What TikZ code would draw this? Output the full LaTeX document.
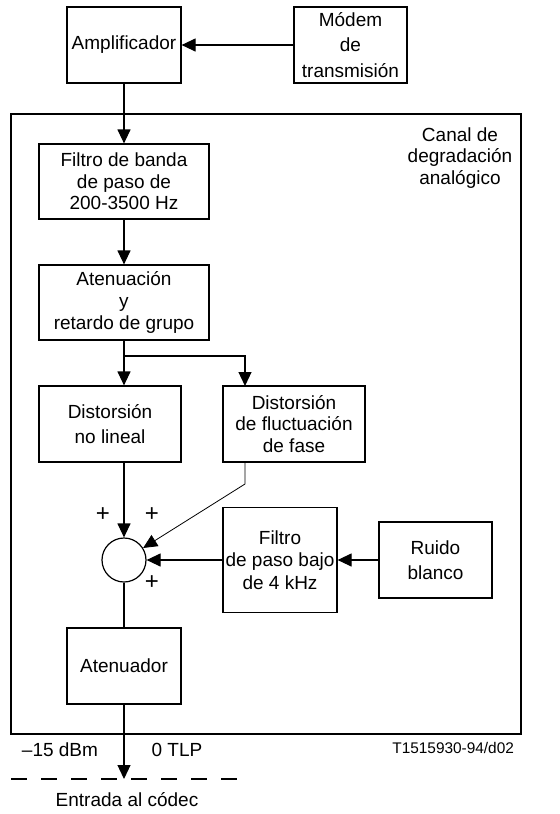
\documentclass[tikz,border=0pt]{standalone}
\usepackage{fontspec}
\setmainfont{Liberation Sans}
\usetikzlibrary{arrows.meta}

\begin{document}
\begin{tikzpicture}[x=0.5pt,y=-0.5pt]
        \tikzstyle{every node}=[font=\fontsize{9.5}{10.8}\selectfont,align=center]
        \tikzstyle{bloc}=[draw,line width=0.6pt,inner sep=0pt]
        \tikzstyle{airy}=[font=\fontsize{9.5}{12.6}\selectfont]
        \tikzstyle{signe}=[font=\fontsize{12}{12}\selectfont,inner sep=0pt]
        \tikzstyle{fil}=[line width=0.6pt]
        \tikzstyle{signal}=[fil,-{Triangle[length=7pt,width=6.5pt]}]
        \tikzstyle{fin}=[line width=0.4pt,-{Triangle[length=7pt,width=6.5pt]}]
        \useasboundingbox (0,0) rectangle (559,814);
        % canal
        \draw[fil] (11,114) rectangle (521,734);
        \node (canal) at (460,158) {Canal de\\degradación\\analógico};
        % blocs
        \node[bloc,minimum width=57pt,minimum height=38pt] (amp) at (124,45) {Amplificador};
        \node[bloc,airy,minimum width=56.5pt,minimum height=38pt] (modem) at (350.5,45) {Módem\\de\\transmisión};
        \node[bloc,minimum width=85pt,minimum height=37.5pt] (bpf) at (124,181.5) {Filtro de banda\\de paso de\\200-3500 Hz};
        \node[bloc,minimum width=85pt,minimum height=37.5pt] (aten) at (124,302.5) {Atenuación\\y\\retardo de grupo};
        \node[bloc,airy,minimum width=71pt,minimum height=38pt] (nolin) at (110,424) {Distorsión\\no lineal};
        \node[bloc,minimum width=71pt,minimum height=38pt] (fase) at (294,424) {Distorsión\\de fluctuación\\de fase};
        \node[draw,fil,circle,minimum size=22pt,inner sep=0pt] (sum) at (124,560) {};
        \node[bloc,font=\fontsize{9.5}{11.3}\selectfont,minimum width=57pt,minimum height=52.5pt] (lpf) at (280,560) {Filtro\\de paso bajo\\de 4 kHz};
        \node[bloc,airy,minimum width=56.5pt,minimum height=38pt] (ruido) at (435.5,560) {Ruido\\blanco};
        \node[bloc,minimum width=57pt,minimum height=38pt] (atr) at (124,666) {Atenuador};
        % signes
        \node[signe] (p1) at (103,515) {+};
        \node[signe] (p2) at (152,515) {+};
        \node[signe] (p3) at (152,583) {+};
        % liaisons
        \coordinate (split) at (124,356);
        \coordinate (fasein) at (245,386);
        \coordinate (coude) at (245,484);
        \coordinate (out) at (124,779);
        \draw[signal] (modem) -- (amp);
        \draw[signal] (amp) -- (bpf);
        \draw[signal] (bpf) -- (aten);
        \draw[fil] (aten.south) -- (split);
        \draw[signal] (split) -- (split |- nolin.north);
        \draw[signal] (split) -| (fasein);
        \draw[signal] (nolin.south -| sum) -- (sum);
        \draw[fin] (fasein |- fase.south) -- (coude) -- (sum);
        \draw[signal] (ruido) -- (lpf);
        \draw[signal] (lpf) -- (sum);
        \draw[fil] (sum) -- (atr);
        \draw[signal] (atr) -- (out);
        \draw[fil,dash pattern=on 8pt off 7pt] (11,779) -- (237,779);
        % textes
        \node (dbm) at (60,750) {–15 dBm};
        \node (tlp) at (177,750) {0 TLP};
        \node (codec) at (127,800) {Entrada al códec};
        \node[anchor=east,font=\fontsize{7.7}{9}\selectfont] (ref) at (521,748) {T1515930-94/d02};
      \end{tikzpicture}
\end{document}
